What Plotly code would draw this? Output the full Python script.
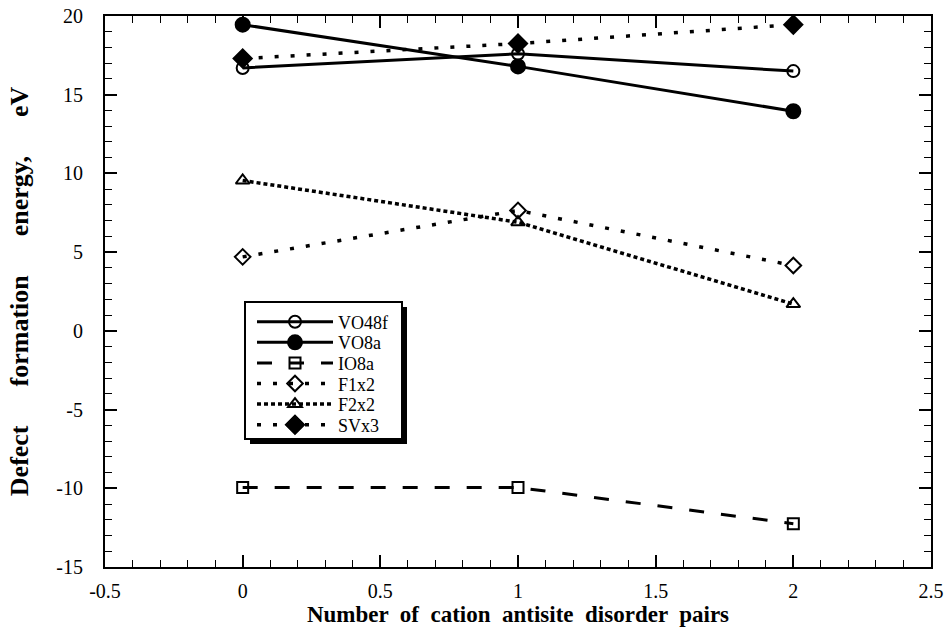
import plotly.graph_objects as go

x_pairs = [0, 1, 2]
VO48f = [16.7, 17.6, 16.5]
VO8a = [19.45, 16.8, 13.95]
IO8a = [-9.95, -9.95, -12.25]
F1x2 = [4.7, 7.65, 4.15]
F2x2 = [9.55, 6.9, 1.7]
SVx3 = [17.3, 18.25, 19.45]

x_tickvals = [-0.5, 0, 0.5, 1, 1.5, 2, 2.5]
x_ticktext = ["-0.5", "0", "0.5", "1", "1.5", "2", "2.5"]
y_tickvals = [-15, -10, -5, 0, 5, 10, 15, 20]
y_ticktext = ["-15", "-10", "-5", "0", "5", "10", "15", "20"]

series = [
    ("VO48f", VO48f, "solid", "circle-open", 12, 3),
    ("VO8a", VO8a, "solid", "circle", 14, 3),
    ("IO8a", IO8a, "15px,17px", "square-open", 11, 3),
    ("F1x2", F1x2, "4px,12px", "diamond-open", 12, 3.5),
    ("F2x2", F2x2, "4px,3px", "triangle-up-open", 12, 3.5),
    ("SVx3", SVx3, "4px,12px", "diamond", 14, 3.5),
]

# plot area in pixels (layout helpers)
W, H = 946, 631
L, R, T, B = 105, 15, 16, 64
PW, PH = W - L - R, H - T - B

def px2paper_x(px):
    return (px - L) / PW

def px2paper_y(py):
    return (H - B - py) / PH

font = "Liberation Serif, Times New Roman, serif"

fig = go.Figure()
legend_layouts = {}
row0, step = 322, 20.6
for i, (name, ys, dash, sym, size, lw) in enumerate(series):
    lname = "legend" if i == 0 else f"legend{i + 1}"
    fig.add_trace(go.Scatter(
        x=x_pairs, y=ys, name=name, mode="lines+markers", legend=lname,
        line=dict(color="black", width=lw, dash=dash),
        marker=dict(symbol=sym, size=size, color="black",
                    line=dict(color="black", width=2)),
    ))
    legend_layouts[lname] = dict(
        x=px2paper_x(252), y=px2paper_y(row0 + i * step),
        xanchor="left", yanchor="middle",
        bgcolor="rgba(0,0,0,0)", borderwidth=0,
        font=dict(family=font, size=18, color="black"),
        itemwidth=76,
    )

axis_common = dict(
    showgrid=False, zeroline=False, showline=True, linecolor="black", linewidth=2,
    mirror="allticks", ticks="inside", ticklen=12, tickwidth=1.5, tickcolor="black",
    tickfont=dict(family=font, size=20, color="black"), automargin=False,
)
fig.update_xaxes(range=[-0.5, 2.5], tickmode="array", tickvals=x_tickvals, ticktext=x_ticktext,
                 minor=dict(dtick=0.1, tick0=-0.5, ticks="inside", ticklen=7, tickwidth=1.2, tickcolor="black"),
                 ticklabelstandoff=5,
                 title=dict(text="<b>Number &nbsp;of &nbsp;cation &nbsp;antisite &nbsp;disorder &nbsp;pairs</b>",
                            font=dict(family=font, size=23, color="black"), standoff=2),
                 **axis_common)
gap = " " + "&nbsp;" * 5
fig.update_yaxes(range=[-15, 20], tickmode="array", tickvals=y_tickvals, ticktext=y_ticktext,
                 minor=dict(dtick=1, tick0=-15, ticks="inside", ticklen=7, tickwidth=1.2, tickcolor="black"),
                 ticklabelstandoff=16,
                 title=dict(text="<b>Defect" + gap + "formation" + gap + "energy," + gap + "eV</b>",
                            font=dict(family=font, size=26, color="black"), standoff=20),
                 **axis_common)

bx0, bx1, by0, by1 = 245, 402, 302, 439
fig.update_layout(
    width=W, height=H,
    margin=dict(l=L, r=R, t=T, b=B, autoexpand=False),
    paper_bgcolor="white", plot_bgcolor="white",
    showlegend=True,
    shapes=[
        dict(type="rect", xref="paper", yref="paper",
             x0=px2paper_x(bx0 + 5), x1=px2paper_x(bx1 + 5),
             y0=px2paper_y(by1 + 5), y1=px2paper_y(by0 + 5),
             fillcolor="black", line=dict(width=0), layer="above"),
        dict(type="rect", xref="paper", yref="paper",
             x0=px2paper_x(bx0), x1=px2paper_x(bx1),
             y0=px2paper_y(by1), y1=px2paper_y(by0),
             fillcolor="white", line=dict(color="black", width=2), layer="above"),
    ],
    **legend_layouts,
)

fig.write_html("out.html")
